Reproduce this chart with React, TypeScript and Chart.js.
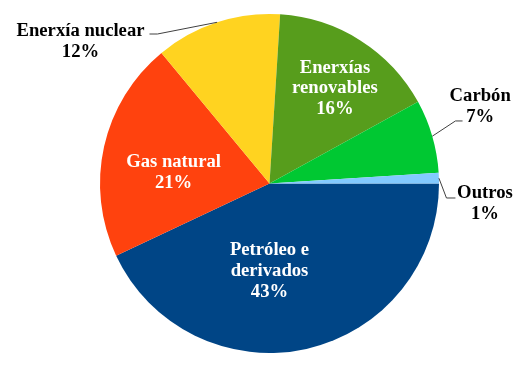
import React, { useEffect, useRef } from "react";
import { Chart, registerables } from "chart.js";

Chart.register(...registerables);

const categories = ["Petróleo e derivados", "Gas natural", "Enerxía nuclear", "Enerxías renovables", "Carbón", "Outros"];
const values = [43, 21, 12, 16, 7, 1];
const labelLines = [
  ["Petróleo e", "derivados", "43%"],
  ["Gas natural", "21%"],
  ["Enerxía nuclear", "12%"],
  ["Enerxías", "renovables", "16%"],
  ["Carbón", "7%"],
  ["Outros", "1%"],
];
const colors = ["#004586", "#FF420E", "#FFD320", "#579D1C", "#00C832", "#83CAFF"];

// label layout in units of the pie radius, relative to the pie centre
// (tx = text centre x, ty = middle of the baselines)
const labelLayout = [
  { tx: 0, ty: 0.546, inside: true },
  { tx: -0.566, ty: -0.035, inside: true },
  { tx: -1.115, ty: -0.807, inside: false, ex: -0.661, ey: -0.882, endX: -0.708 },
  { tx: 0.386, ty: -0.532, inside: true },
  { tx: 1.243, ty: -0.426, inside: false, ex: 1.097, ey: -0.369, endX: 1.139 },
  { tx: 1.271, ty: 0.146, inside: false, ex: 1.044, ey: 0.0855, endX: 1.097 },
];

const FONT = "bold 18.67px 'Liberation Serif', 'Times New Roman', serif";
const LINE_H = 20.7;

const labelPlugin = {
  id: "pieLabels",
  afterDatasetsDraw(chart: any) {
    const ctx = chart.ctx;
    const meta = chart.getDatasetMeta(0);
    ctx.save();
    ctx.font = FONT;
    ctx.textAlign = "center";
    ctx.textBaseline = "alphabetic";
    meta.data.forEach((arc: any, i: number) => {
      const { x, y, outerRadius, startAngle, endAngle } = arc.getProps(["x", "y", "outerRadius", "startAngle", "endAngle"], true);
      const r = outerRadius;
      const L = labelLayout[i];
      if (!L.inside) {
        const mid = (startAngle + endAngle) / 2;
        const sx = x + Math.cos(mid) * r;
        const sy = y + Math.sin(mid) * r;
        ctx.strokeStyle = "#404040";
        ctx.lineWidth = 1;
        ctx.beginPath();
        ctx.moveTo(sx, sy);
        ctx.lineTo(x + L.ex! * r, y + L.ey! * r);
        ctx.lineTo(x + L.endX! * r, y + L.ey! * r);
        ctx.stroke();
      }
      ctx.fillStyle = L.inside ? "#FFFFFF" : "#000000";
      const lines = labelLines[i];
      const cx = x + L.tx * r;
      const cy = y + L.ty * r;
      lines.forEach((t, k) => {
        ctx.fillText(t, cx, cy + (k - (lines.length - 1) / 2) * LINE_H);
      });
    });
    ctx.restore();
  },
};

export default function App() {
  const ref = useRef<HTMLCanvasElement>(null);
  useEffect(() => {
    let chart: Chart | null = null;
    let cancelled = false;
    const make = () => {
      if (cancelled || !ref.current) return;
      chart = new Chart(ref.current, {
        type: "pie",
        data: {
          labels: categories,
          datasets: [
            {
              data: values,
              backgroundColor: colors,
              borderWidth: 0,
            },
          ],
        },
        options: {
          animation: false,
          responsive: false,
          rotation: 90,
          layout: { padding: { top: 14, bottom: 13, left: 100, right: 87 } },
          plugins: { legend: { display: false }, tooltip: { enabled: false } },
        },
        plugins: [labelPlugin],
      });
    };
    const fonts: any = (document as any).fonts;
    if (fonts && fonts.load) {
      fonts.load(FONT, "Enerxía").then(make, make);
    } else {
      make();
    }
    return () => {
      cancelled = true;
      if (chart) chart.destroy();
    };
  }, []);
  return (
    <div style={{ position: "absolute", left: 0, top: 0, width: 526, height: 366, background: "#fff" }}>
      <canvas ref={ref} width={526} height={366} />
    </div>
  );
}
